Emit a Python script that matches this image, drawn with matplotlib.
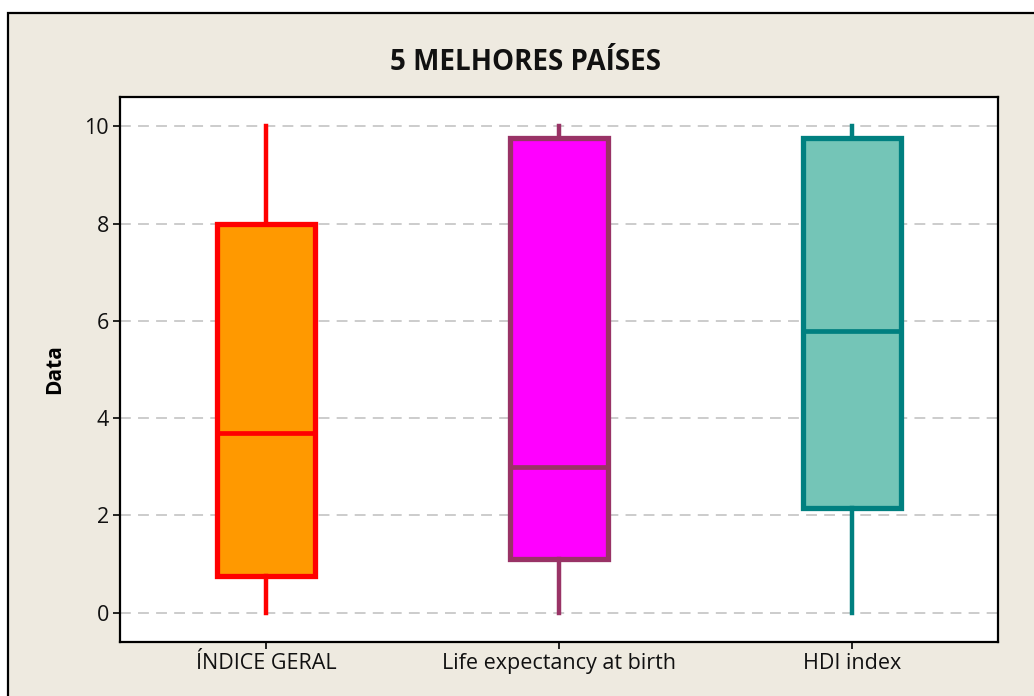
import matplotlib
matplotlib.use("Agg")
import matplotlib.pyplot as plt
from matplotlib.patches import Rectangle

categories = ["ÍNDICE GERAL", "Life expectancy at birth", "HDI index"]
whisker_low = [0.0, 0.0, 0.0]
q1 = [0.75, 1.1, 2.15]
median = [3.7, 3.0, 5.8]
q3 = [8.0, 9.75, 9.75]
whisker_high = [10.0, 10.0, 10.0]
yticks = [0, 2, 4, 6, 8, 10]

fill_colors = ["#FF9900", "#FF00FF", "#74C5B7"]
edge_colors = ["#FF0000", "#993366", "#008080"]
bg = "#EEEAE0"

plt.rcParams['font.family'] = ['Open Sans', 'DejaVu Sans']

fig = plt.figure(figsize=(10.34, 6.96), dpi=100)
fig.patch.set_facecolor("white")
fig.patches.append(Rectangle((7.5/1034, -0.1), 1.2, (696-13.5)/696 + 0.1,
                             transform=fig.transFigure, facecolor=bg,
                             edgecolor="black", linewidth=1.6, zorder=-10))

ax = fig.add_axes([120/1034, (696-642)/696, (998-120)/1034, (642-97)/696])
ax.set_facecolor("white")

stats = []
for i, c in enumerate(categories):
    stats.append(dict(label=c, whislo=whisker_low[i], q1=q1[i], med=median[i],
                      q3=q3[i], whishi=whisker_high[i], fliers=[]))

positions = [1, 2, 3]
for i, s in enumerate(stats):
    ax.bxp([s], positions=[positions[i]], widths=0.335, patch_artist=True,
           showcaps=False, showfliers=False,
           boxprops=dict(facecolor=fill_colors[i], edgecolor=edge_colors[i], linewidth=3.8, joinstyle='miter'),
           whiskerprops=dict(color=edge_colors[i], linewidth=3.2),
           medianprops=dict(color=edge_colors[i], linewidth=3.4, solid_capstyle='butt'),
           zorder=3)

ax.set_xlim(0.5, 3.5)
ax.set_ylim(-0.6, 10.6)
ax.set_xticks(positions)
ax.set_xticklabels(categories, fontsize=15.5, color="#111111")
ax.set_yticks(yticks)
ax.set_yticklabels([str(v) for v in yticks], fontsize=15.5, color="#111111")
ax.tick_params(axis='both', direction='out', length=5, width=1.2, color='black', pad=3)
ax.yaxis.grid(True, linestyle=(0, (6, 4)), color="#C8C8C8", linewidth=1.3, zorder=0)
ax.set_axisbelow(True)
for sp in ax.spines.values():
    sp.set_linewidth(1.6)
    sp.set_color("black")

ax.set_ylabel("Data", fontsize=15, fontweight='bold', labelpad=14)
fig.text(526/1034, (696-63)/696, "5 MELHORES PAÍSES", ha='center', va='center',
         fontsize=20, fontweight='bold', color="#111111")

fig.savefig("out.png", dpi=100, facecolor=fig.get_facecolor())
